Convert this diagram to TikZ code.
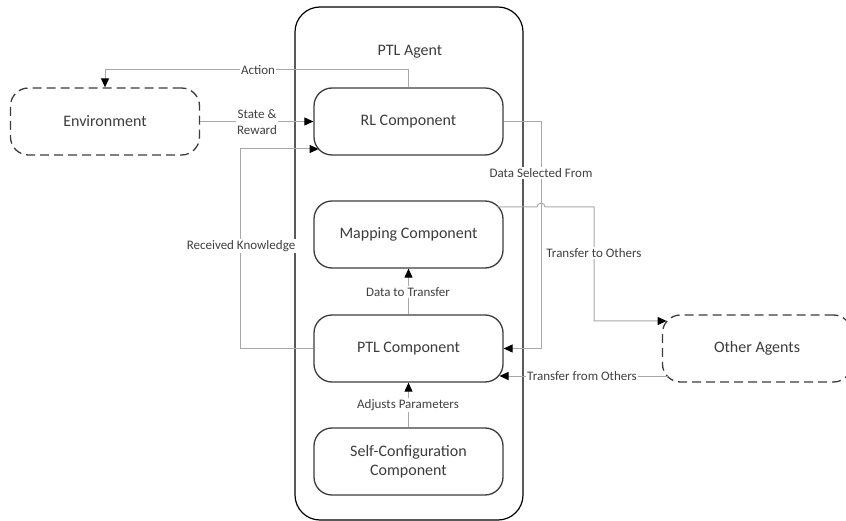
\documentclass[tikz,border=0pt]{standalone}
\usepackage{fontspec}
\setmainfont{Carlito}
\usetikzlibrary{arrows.meta}
\definecolor{boxc}{HTML}{3C3C3C}
\definecolor{linec}{HTML}{A8A8A8}
\definecolor{labc}{HTML}{404040}
\begin{document}
\begin{tikzpicture}[x=1pt,y=-1pt,
  comp/.style={draw=boxc, line width=1.3pt, rounded corners=18pt, minimum width=189pt, minimum height=67pt, align=center, text=boxc, font=\fontsize{16}{19}\selectfont},
  ext/.style={comp, dash pattern=on 9pt off 5pt},
  conn/.style={draw=linec, line width=1pt, -{Triangle[length=9pt,width=8pt,color=black]}},
  plain/.style={draw=linec, line width=1pt},
  lab/.style={fill=white, inner sep=1pt, text=labc, align=center, font=\fontsize{13}{16}\selectfont}]
\useasboundingbox (0,0) rectangle (846,521);
\node[draw=black, line width=1.2pt, rounded corners=25pt, minimum width=228pt, minimum height=513pt, inner sep=0pt] (agent) at (409,263.5) {};
\node[text=boxc, font=\fontsize{16}{19}\selectfont] (agentlbl) at (410,52) {PTL Agent};
\node[comp] (rl) at (408.5,121.5) {RL Component};
\node[comp] (map) at (408.5,234.5) {Mapping Component};
\node[comp] (ptl) at (408.5,348.5) {PTL Component};
\node[comp] (self) at (408.5,461.5) {Self-Configuration\\Component};
\node[ext] (env) at (105,121.5) {Environment};
\node[ext] (oth) at (757,348.5) {Other Agents};
\coordinate (rlk) at (318.6,149);
\coordinate (mapo) at (497,207);
\coordinate (othin) at (666.6,321);
\coordinate (othout) at (667.6,376);
\coordinate (ptlin) at (499.5,376);
% connectors
\draw[conn] (rl.north) -- (rl.north |- 0,70) -| (env.north);
\draw[conn] (env.east) -- (rl.west);
\draw[conn] (ptl.west) -- (240,348.5) -- (240,149) -- (rlk);
\draw[conn] (rl.east) -- (541,121.5) -- (541,348.5) -- (ptl.east);
\draw[conn] (mapo) -- (537,207) arc[start angle=180,end angle=360,radius=4] -- (594,207) -- (594,321) -- (othin);
\draw[conn] (othout) -- (ptlin);
\draw[conn] (ptl.north) -- (map.south);
\draw[conn] (self.north) -- (ptl.south);
% labels
\node[lab] (lact) at (258,70) {Action};
\node[lab] (lsr) at (257,122) {State \&\\Reward};
\node[lab] (lrk) at (241,246) {Received Knowledge};
\node[lab] (lds) at (541,173) {Data Selected From};
\node[lab] (lto) at (594,253) {Transfer to Others};
\node[lab] (lfo) at (582,376) {Transfer from Others};
\node[lab] (ldt) at (408,292) {Data to Transfer};
\node[lab] (lap) at (408,405) {Adjusts Parameters};
\end{tikzpicture}
\end{document}
